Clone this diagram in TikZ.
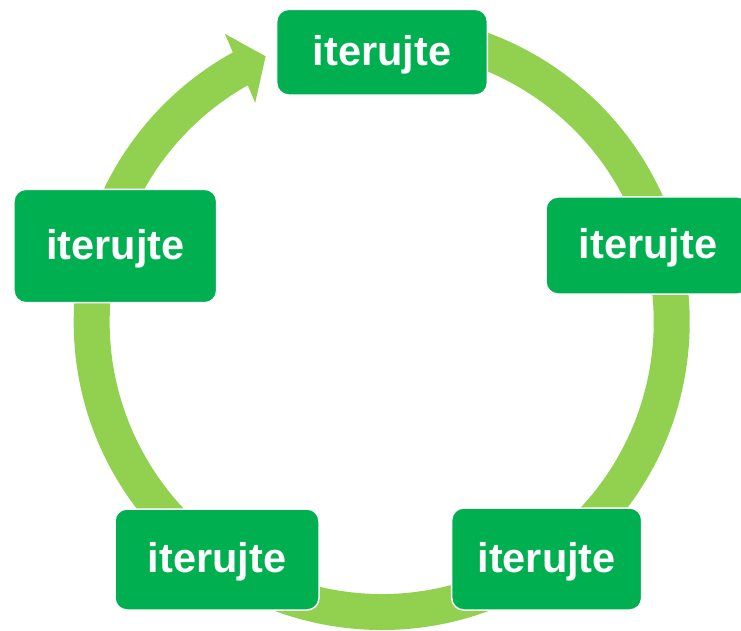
\documentclass[tikz,border=0pt]{standalone}
\usepackage{fontspec}
\setmainfont{Liberation Sans}
\usetikzlibrary{calc}
\definecolor{ringgreen}{HTML}{92D050}
\definecolor{boxgreen}{HTML}{00B050}
\begin{document}
\begin{tikzpicture}[x=1pt,y=1pt,
  stepbox/.style={fill=boxgreen, draw=white, line width=1.5pt, rounded corners=12pt,
    text=white, font=\bfseries\fontsize{41.5}{41.5}\selectfont,
    text height=30pt, text depth=4pt, inner sep=0pt}]
\useasboundingbox (0,0) rectangle (741,-631);
\coordinate (C) at (381.7,-322);
% cycle ring, running clockwise and ending in an arrowhead
\fill[ringgreen] ($(C)+(88:308)$) arc[start angle=88, end angle=-241.1, radius=308]
  -- ($(C)+(118.55:328)$) -- ($(C)+(113.6:290)$) -- ($(C)+(120:253)$)
  -- ($(C)+(119.5:272)$)
  arc[start angle=-240.5, end angle=88, radius=272] -- cycle;
% steps of the cycle
\node[stepbox, minimum width=210.6pt, minimum height=85.7pt] (s1) at (382,-52.2) {iterujte};
\node[stepbox, minimum width=204pt, minimum height=97pt] (s2) at (648,-245.5) {iterujte};
\node[stepbox, minimum width=190pt, minimum height=102pt] (s3) at (546.7,-559) {iterujte};
\node[stepbox, minimum width=204pt, minimum height=101pt] (s4) at (217,-559.5) {iterujte};
\node[stepbox, minimum width=202.7pt, minimum height=113.4pt] (s5) at (115.3,-246) {iterujte};
\end{tikzpicture}
\end{document}
